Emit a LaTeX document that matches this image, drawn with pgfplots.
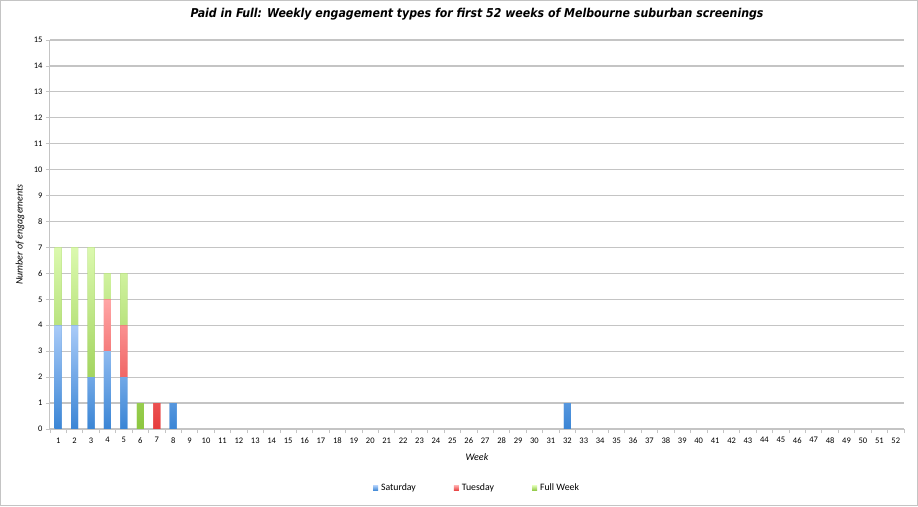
\documentclass[border=0pt]{standalone}
\usepackage{fontspec}
\setmainfont{Carlito}
\newfontfamily\titlefont{DejaVu Sans Condensed}
\usepackage{pgfplots}
\pgfplotsset{compat=1.18}
\definecolor{satB}{HTML}{3A85D5}
\definecolor{satT}{HTML}{A9CBF8}
\definecolor{tueB}{HTML}{E63C3C}
\definecolor{tueT}{HTML}{FFA5A5}
\definecolor{fulB}{HTML}{8CC63F}
\definecolor{fulT}{HTML}{DBF9AE}
\definecolor{gridc}{HTML}{C4C4C4}
\begin{document}
\begin{tikzpicture}
\useasboundingbox (0pt,0pt) rectangle (918pt,506pt);
\draw[gridc,line width=1pt] (0.5pt,0.5pt) rectangle (917.5pt,505.5pt);
\begin{axis}[
  at={(50pt,77pt)}, anchor=south west,
  scale only axis, width=854pt, height=389pt,
  ybar stacked, bar width=7pt,
  xmin=0.5, xmax=52.5, ymin=0, ymax=15,
  xtick={1,...,52}, major x tick style={draw=none},
  minor xtick={0.5,1.5,...,52.5},
  ytick={0,1,...,15},
  tick align=outside,
  major tick length=4pt, minor tick length=4pt,
  tick style={gridc, line width=0.8pt},
  axis x line*=bottom, axis y line*=left,
  axis line style={gridc, line width=1pt, -},
  ymajorgrids, grid style={gridc, line width=1.2pt},
  tick label style={font=\fontsize{8.5}{9}\selectfont},
  /pgf/number format/assume math mode=true,
  xticklabel style={yshift=-1pt},
  title={\titlefont\bfseries\itshape\fontsize{12.2}{15}\selectfont Paid in Full: Weekly engagement types for first 52 weeks of Melbourne suburban screenings},
  title style={at={(axis description cs:0.5,1)}, yshift=20pt, anchor=center},
  xlabel={\itshape Week},
  xlabel style={at={(axis description cs:0.5,0)}, yshift=-28pt, anchor=center, font=\fontsize{10}{11}\selectfont},
  ylabel={\itshape Number of engagements},
  ylabel style={at={(axis description cs:-0.035,0.5)}, anchor=center, font=\fontsize{10}{11}\selectfont},
  legend style={at={(axis description cs:0.5,-0.152)}, anchor=center, legend columns=-1, draw=none, font=\fontsize{9.8}{10}\selectfont, /tikz/every odd column/.append style={column sep=1pt}, /tikz/every even column/.append style={column sep=36pt}},
  legend image code/.code={\fill[#1] (0pt,-2.5pt) rectangle (5pt,2.5pt);},
]
\addplot[draw=none, fill=satB, bottom color=satB, top color=satT] coordinates {(1,4) (2,4) (3,2) (4,3) (5,2) (6,0) (7,0) (8,1) (32,1)};
\addplot[draw=none, fill=tueB, bottom color=tueB, top color=tueT] coordinates {(1,0) (2,0) (3,0) (4,2) (5,2) (6,0) (7,1) (8,0) (32,0)};
\addplot[draw=none, fill=fulB, bottom color=fulB, top color=fulT] coordinates {(1,3) (2,3) (3,5) (4,1) (5,2) (6,1) (7,0) (8,0) (32,0)};
\legend{Saturday, Tuesday, Full Week}
\end{axis}
\end{tikzpicture}
\end{document}
